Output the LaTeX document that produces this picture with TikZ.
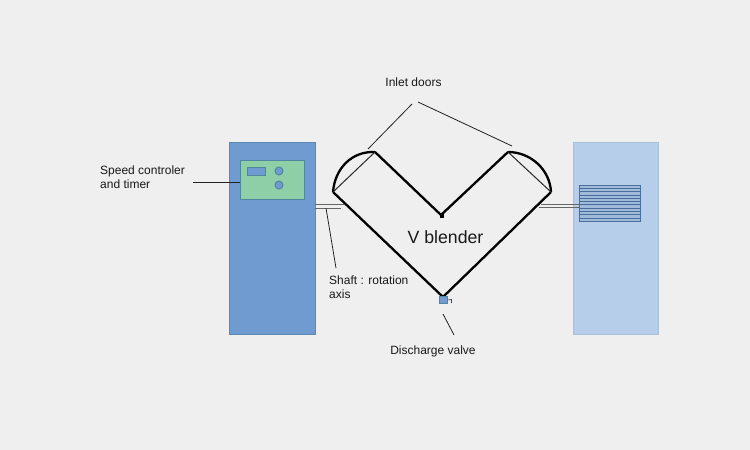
\documentclass[tikz,border=0pt]{standalone}
\usepackage{fontspec}
\setmainfont{Liberation Sans}
\definecolor{bgc}{HTML}{EFEFEF}
\definecolor{bluebox}{HTML}{6F9BD0}
\definecolor{blueedge}{HTML}{5C88B4}
\definecolor{lightbox}{HTML}{B6CEE9}
\definecolor{lightedge}{HTML}{A9BFD6}
\definecolor{panel}{HTML}{8ECFA8}
\definecolor{paneledge}{HTML}{4F86A0}
\definecolor{ctrl}{HTML}{6F9BD0}
\definecolor{grill}{HTML}{4A6E9C}
\definecolor{leader}{HTML}{222222}
\tikzset{
  vessel/.style={line width=2.3pt,black,line join=round},
  leaderline/.style={line width=0.8pt,leader},
  shaftline/.style={line width=1pt,black!60},
  lbl/.style={font=\fontsize{12}{14}\selectfont,align=left,text=black!90,inner sep=0pt},
  ctrlpart/.style={fill=ctrl,draw=paneledge,line width=1pt},
}
\begin{document}
\begin{tikzpicture}[x=1pt,y=-1pt]
\useasboundingbox (0,0) rectangle (750,450);
\fill[bgc] (0,0) rectangle (750,450);
% coordinates
\coordinate (L) at (333,192);
\coordinate (TL) at (375,152);
\coordinate (N) at (441,215);
\coordinate (TR) at (508,152);
\coordinate (R) at (551,192);
\coordinate (B) at (443,297);
% boxes
\node[draw=blueedge,fill=bluebox,line width=0.8pt,minimum width=86pt,minimum height=192pt,inner sep=0pt] (ctl) at (272,238) {};
\node[draw=lightedge,fill=lightbox,line width=0.8pt,minimum width=85pt,minimum height=192pt,inner sep=0pt] (mot) at (615.5,238) {};
\node[draw=paneledge,fill=panel,line width=1pt,minimum width=64pt,minimum height=39pt,inner sep=0pt] (pan) at (272,179.5) {};
\node[ctrlpart,minimum width=18pt,minimum height=8pt,inner sep=0pt] (disp) at (256,171) {};
\node[ctrlpart,circle,minimum size=8pt,inner sep=0pt] (k1) at (279,171) {};
\node[ctrlpart,circle,minimum size=8pt,inner sep=0pt] (k2) at (279,185) {};
% grille
\node[draw=grill,fill=lightbox!80!grill,line width=0.8pt,minimum width=61pt,minimum height=36pt,inner sep=0pt] (gr) at (609.5,203) {};
\foreach \y in {188.3,191.6,194.9,198.2,201.5,204.8,208.1,211.4,214.7,218}
  \draw[grill,line width=0.7pt] (579,\y) -- (640,\y);
% shafts
\draw[shaftline] (315,204) -- (344,204);
\draw[shaftline] (315,208) -- (341,208);
\draw[shaftline] (541,204) -- (579,204);
\draw[shaftline] (539,207) -- (579,207);
% vessel
\draw[vessel] (TL) -- (N) -- (TR);
\draw[vessel] (L) -- (B) -- (R);
\fill[black] (439.5,213.5) rectangle (443.5,217.5);
\draw[vessel] (L) .. controls (335,168) and (352,151) .. (TL);
\draw[vessel] (TR) .. controls (531,152) and (550,170) .. (R);
\draw[line width=1pt,black!85] (L) -- (TL);
\draw[line width=1pt,black!85] (TR) -- (R);
% valve
\node[draw=paneledge,fill=ctrl,line width=0.6pt,minimum width=8pt,minimum height=7pt,inner sep=0pt] (valve) at (443,300) {};
\draw[line width=0.7pt,black!70] (valve.east) -- (451.5,299.5) -- (451.5,303);
% labels
\node[lbl,anchor=center] (inlet) at (413.5,82) {Inlet doors};
\node[lbl,anchor=west] (speed) at (100,177) {Speed controler\\and timer};
\node[lbl,anchor=center,font=\fontsize{17.7}{18}\selectfont] (vb) at (445.5,237) {V blender};
\node[lbl,anchor=west] (shaft) at (329,287) {Shaft : rotation\\axis};
\node[lbl,anchor=center] (disc) at (433,351) {Discharge valve};
% leaders
\coordinate (s1) at (193,182);
\coordinate (i1) at (412,104);
\coordinate (i2) at (368,149);
\coordinate (i3) at (418,102);
\coordinate (i4) at (512,146);
\coordinate (sh1) at (336,268);
\coordinate (sh2) at (326,208);
\coordinate (d1) at (443,314);
\coordinate (d2) at (454,335);
\draw[leaderline] (s1) -- (pan.west |- s1);
\draw[leaderline] (i1) -- (i2);
\draw[leaderline] (i3) -- (i4);
\draw[leaderline] (sh1) -- (sh2);
\draw[leaderline] (d1) -- (d2);
\end{tikzpicture}
\end{document}
